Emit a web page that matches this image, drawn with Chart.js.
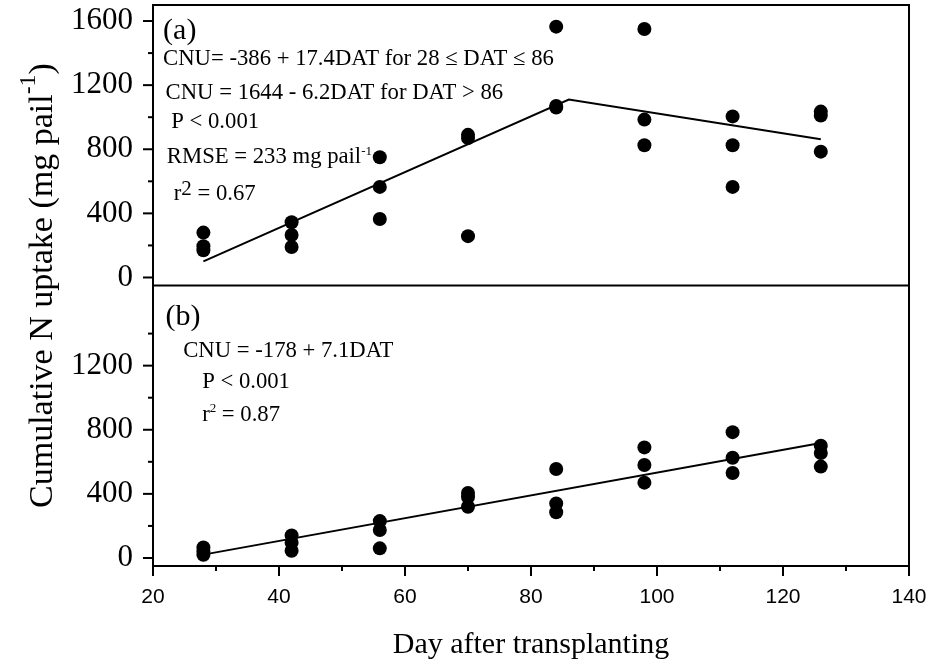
<!DOCTYPE html>
<html>
<head>
<meta charset="utf-8">
<script src="https://cdn.jsdelivr.net/npm/chart.js@4.4.1/dist/chart.umd.min.js"></script>
<style>
  html, body { margin: 0; padding: 0; background: #fff; }
  #wrap { position: relative; width: 933px; height: 667px; }
</style>
</head>
<body>
<div id="wrap"><canvas id="cnuChart" width="933" height="667"></canvas></div>
<script>
// axis ticks
const dayTicks = [20, 40, 60, 80, 100, 120, 140];
const dayMinor = [30, 50, 70, 90, 110, 130];
const yTicksA = [0, 400, 800, 1200, 1600];
const yMinorA = [200, 600, 1000, 1400];
const yTicksB = [0, 400, 800, 1200];
const yMinorB = [200, 600, 1000, 1400];

// panel (a) observations + broken-line fit
const obsDaysA = [28, 28, 28, 42, 42, 42, 56, 56, 56, 70, 70, 70, 84, 84, 84, 98, 98, 98, 112, 112, 112, 126, 126, 126];
const obsUptakeA = [280, 195, 170, 345, 265, 190, 750, 565, 365, 890, 870, 258, 1565, 1070, 1060, 1550, 985, 825, 1005, 825, 565, 1035, 1010, 785];
const fitDaysA = [28, 86, 126];
const fitUptakeA = [101, 1110, 863];

// panel (b) observations + linear fit
const obsDaysB = [28, 28, 28, 42, 42, 42, 56, 56, 56, 70, 70, 70, 84, 84, 84, 98, 98, 98, 112, 112, 112, 126, 126, 126];
const obsUptakeB = [65, 40, 20, 140, 95, 45, 230, 175, 60, 405, 380, 320, 555, 340, 285, 690, 580, 470, 785, 625, 530, 700, 655, 570];
const fitDaysB = [28, 126];
const fitUptakeB = [21, 717];

const SERIF = '"Liberation Serif", "Times New Roman", serif';
const SANS = '"Liberation Sans", Arial, sans-serif';

// text notes: anchored in data units (day, uptake) of their panel
const notesA = [
  { day: 21.6, val: 1487, size: 30, segs: [{ t: '(a)' }] },
  { day: 21.6, val: 1326, size: 22.7, segs: [{ t: 'CNU= -386 + 17.4DAT for 28 \u2264 DAT \u2264 86' }] },
  { day: 22.0, val: 1111, size: 22.7, segs: [{ t: 'CNU = 1644 - 6.2DAT for DAT > 86' }] },
  { day: 22.9, val: 933, size: 22.7, segs: [{ t: 'P < 0.001' }] },
  { day: 22.2, val: 717, size: 22.7, segs: [{ t: 'RMSE = 233 mg pail' }, { t: '-1', sup: 13, rise: 8 }] },
  { day: 23.3, val: 483, size: 22.7, segs: [{ t: 'r' }, { t: '2', sup: 21, rise: 5 }, { t: ' = 0.67' }] }
];
const notesB = [
  { day: 22.0, val: 1456, size: 30, segs: [{ t: '(b)' }] },
  { day: 24.8, val: 1252, size: 22.7, segs: [{ t: 'CNU = -178 + 7.1DAT' }] },
  { day: 27.8, val: 1060, size: 22.7, segs: [{ t: 'P < 0.001' }] },
  { day: 27.8, val: 856, size: 22.7, segs: [{ t: 'r' }, { t: '2', sup: 13, rise: 9 }, { t: ' = 0.87' }] }
];

const toPts = (xs, ys) => xs.map((x, i) => ({ x, y: ys[i] }));

function richWidth(ctx, segs, size) {
  let w = 0;
  segs.forEach(s => {
    ctx.font = `${s.sup || size}px ${SERIF}`;
    w += ctx.measureText(s.t).width;
  });
  return w;
}

function drawRich(ctx, segs, x, y, size) {
  let cx = x;
  segs.forEach(s => {
    ctx.font = `${s.sup || size}px ${SERIF}`;
    ctx.fillText(s.t, cx, y - (s.rise || 0));
    cx += ctx.measureText(s.t).width;
  });
}

function line(ctx, x1, y1, x2, y2) {
  ctx.beginPath();
  ctx.moveTo(x1, y1);
  ctx.lineTo(x2, y2);
  ctx.stroke();
}

const framePlugin = {
  id: 'frame',
  afterDatasetsDraw(chart) {
    const { ctx, chartArea: a, scales } = chart;
    const { x, yA, yB } = scales;
    ctx.save();
    ctx.strokeStyle = '#000';
    ctx.lineWidth = 2;
    ctx.strokeRect(a.left, a.top, a.right - a.left, a.bottom - a.top);
    line(ctx, a.left, yA.bottom, a.right, yA.bottom);

    dayTicks.forEach(v => { const p = x.getPixelForValue(v); line(ctx, p, a.bottom, p, a.bottom + 10); });
    dayMinor.forEach(v => { const p = x.getPixelForValue(v); line(ctx, p, a.bottom, p, a.bottom + 5); });
    yTicksA.forEach(v => { const p = yA.getPixelForValue(v); line(ctx, a.left - 10, p, a.left, p); });
    yMinorA.forEach(v => { const p = yA.getPixelForValue(v); line(ctx, a.left - 5, p, a.left, p); });
    yTicksB.forEach(v => { const p = yB.getPixelForValue(v); line(ctx, a.left - 10, p, a.left, p); });
    yMinorB.forEach(v => { const p = yB.getPixelForValue(v); line(ctx, a.left - 5, p, a.left, p); });

    ctx.fillStyle = '#000';
    ctx.textBaseline = 'alphabetic';
    ctx.textAlign = 'left';
    notesA.forEach(n => drawRich(ctx, n.segs, x.getPixelForValue(n.day), yA.getPixelForValue(n.val), n.size));
    notesB.forEach(n => drawRich(ctx, n.segs, x.getPixelForValue(n.day), yB.getPixelForValue(n.val), n.size));

    // shared y title
    const title = [{ t: 'Cumulative N uptake (mg pail' }, { t: '-1', sup: 24, rise: 17 }, { t: ')' }];
    const tw = richWidth(ctx, title, 34);
    ctx.translate(52, (a.top + a.bottom) / 2);
    ctx.rotate(-Math.PI / 2);
    drawRich(ctx, title, -tw / 2, 0, 34);
    ctx.restore();
  }
};

function yScale(ticks, weight) {
  return {
    type: 'linear',
    position: 'left',
    stack: 'panels',
    stackWeight: 1,
    weight,
    min: -50,
    max: 1700,
    afterBuildTicks: s => { s.ticks = ticks.map(v => ({ value: v })); },
    afterFit: s => { s.width = 153; s.paddingTop = 0; s.paddingBottom = 0; },
    grid: { display: true, drawOnChartArea: false, drawTicks: false },
    border: { display: false },
    ticks: { color: '#000', padding: 20, autoSkip: false, callback: v => String(v), font: { family: SERIF, size: 31 } }
  };
}

const ctx = document.getElementById('cnuChart').getContext('2d');
new Chart(ctx, {
  type: 'scatter',
  data: {
    datasets: [
      { data: toPts(obsDaysA, obsUptakeA), yAxisID: 'yA', pointRadius: 7, backgroundColor: '#000', borderWidth: 0 },
      { data: toPts(fitDaysA, fitUptakeA), yAxisID: 'yA', showLine: true, borderColor: '#000', borderWidth: 2, pointRadius: 0, fill: false },
      { data: toPts(obsDaysB, obsUptakeB), yAxisID: 'yB', pointRadius: 7, backgroundColor: '#000', borderWidth: 0 },
      { data: toPts(fitDaysB, fitUptakeB), yAxisID: 'yB', showLine: true, borderColor: '#000', borderWidth: 2, pointRadius: 0, fill: false }
    ]
  },
  options: {
    responsive: false,
    animation: false,
    layout: { autoPadding: false, padding: { left: 0, right: 24, top: 5, bottom: 0 } },
    plugins: { legend: { display: false }, tooltip: { enabled: false } },
    scales: {
      x: {
        type: 'linear',
        min: 20,
        max: 140,
        afterBuildTicks: s => { s.ticks = dayTicks.map(v => ({ value: v })); },
        afterFit: s => { s.height = 101; s.paddingLeft = 0; s.paddingRight = 0; },
        grid: { display: true, drawOnChartArea: false, drawTicks: false },
        border: { display: false },
        ticks: { color: '#000', padding: 19, autoSkip: false, maxRotation: 0, font: { family: SANS, size: 21 } },
        title: { display: true, text: 'Day after transplanting', color: '#000', padding: { top: 0, bottom: 4 }, font: { family: SERIF, size: 30 } }
      },
      yA: yScale(yTicksA, 1),
      yB: yScale(yTicksB, 0)
    }
  },
  plugins: [framePlugin]
});
</script>
</body>
</html>
